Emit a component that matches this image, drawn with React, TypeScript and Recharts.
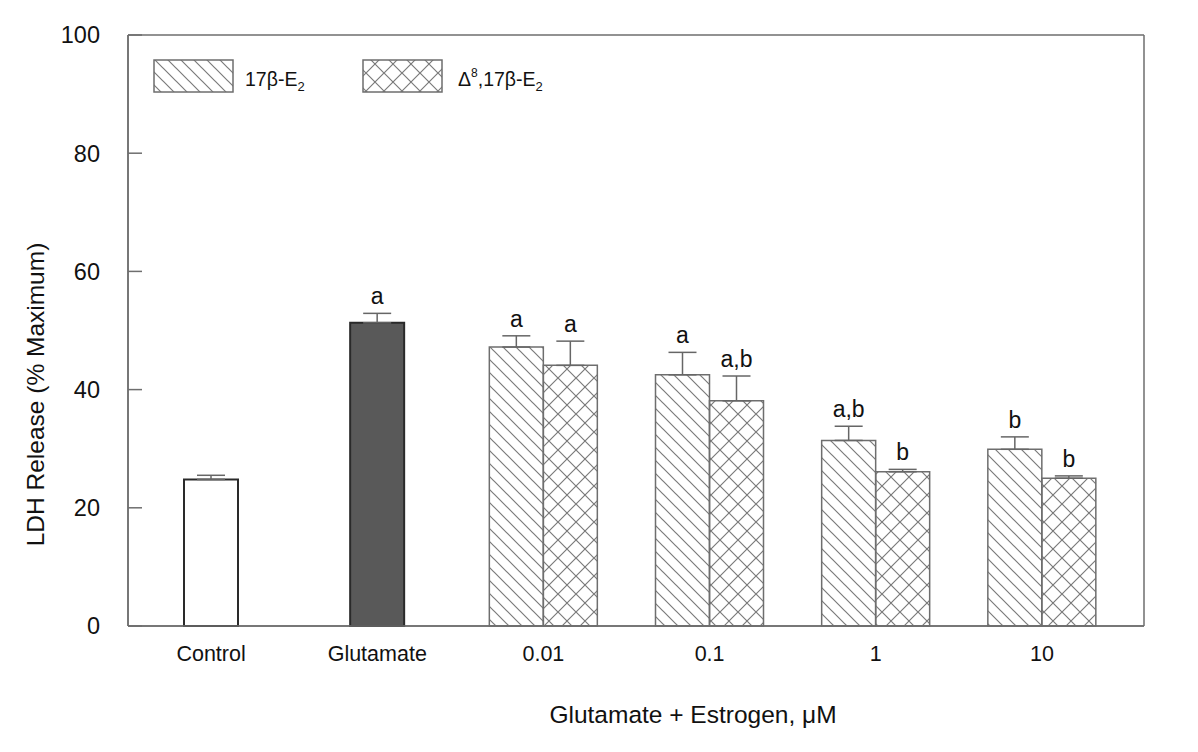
import { BarChart, Bar, XAxis, YAxis, ErrorBar, LabelList, Legend, Cell, Label, CartesianGrid } from "recharts";

// ─── Data ───────────────────────────────────────────────────────────

const categories = ["Control", "Glutamate", "0.01", "0.1", "1", "10"];

// Control / Glutamate alone (one centred bar)
const singleValues = [24.8, 51.3, null, null, null, null];
const singleErrors = [0.7, 1.6, null, null, null, null];
const singleLetters = ["", "a", "", "", "", ""];
const singleFills = ["#ffffff", "#595959"];

// Glutamate + 17β-E2
const e2Values = [null, null, 47.2, 42.5, 31.4, 29.9];
const e2Errors = [null, null, 1.9, 3.8, 2.4, 2.1];
const e2Letters = ["", "", "a", "a", "a,b", "b"];

// Glutamate + Δ8,17β-E2
const d8Values = [null, null, 44.1, 38.1, 26.1, 25.0];
const d8Errors = [null, null, 4.1, 4.2, 0.4, 0.4];
const d8Letters = ["", "", "a", "a,b", "b", "b"];

const yTicks = [0, 20, 40, 60, 80, 100];

const rows = categories.map((name, i) => ({
  name,
  single: singleValues[i],
  singleErr: singleErrors[i] == null ? null : [0, singleErrors[i]],
  singleLetter: singleLetters[i],
  e2: e2Values[i],
  e2Err: e2Errors[i] == null ? null : [0, e2Errors[i]],
  e2Letter: e2Letters[i],
  d8: d8Values[i],
  d8Err: d8Errors[i] == null ? null : [0, d8Errors[i]],
  d8Letter: d8Letters[i],
}));

// ─── Styling ────────────────────────────────────────────────────────

const FONT = "'Liberation Sans', Arial, Helvetica, sans-serif";
const FRAME = "#6e6e6e";
const HATCH = "#7a7a7a";
const X_PADDING = { left: 0, right: 19 };

// letter above the top of each error bar (LabelList value = whole row)
const letterLabel = (valKey: string, errKey: string, letterKey: string) => (props: any) => {
  const vb = props.viewBox ?? props;
  const row: any = props.value;
  if (!row || typeof row !== "object" || !row[letterKey] || row[valKey] == null) return null;
  const pxPerUnit = vb.height / row[valKey];
  const errTop = vb.y - row[errKey][1] * pxPerUnit;
  return (
    <text
      x={vb.x + vb.width / 2}
      y={errTop - 9}
      textAnchor="middle"
      fontSize={23}
      fontFamily={FONT}
      fill="#111"
    >
      {row[letterKey]}
    </text>
  );
};

function LegendBox() {
  return (
    <svg width={460} height={45} style={{ overflow: "visible" }}>
      <rect x={4} y={5} width={79} height={32} fill="url(#hatchE2)" stroke={FRAME} strokeWidth={1.5} />
      <text x={95} y={31} fontSize={19.5} fontFamily={FONT} fill="#111">
        17β-E
        <tspan fontSize={13} dy={5}>2</tspan>
      </text>
      <rect x={213} y={5} width={79} height={32} fill="url(#crossD8)" stroke={FRAME} strokeWidth={1.5} />
      <text x={308} y={31} fontSize={19.5} fontFamily={FONT} fill="#111">
        Δ
        <tspan fontSize={12} dy={-9}>8</tspan>
        <tspan dy={9}>,17β-E</tspan>
        <tspan fontSize={13} dy={5}>2</tspan>
      </text>
    </svg>
  );
}

export default function App() {
  return (
    <div style={{ position: "absolute", left: 0, top: 0, fontFamily: FONT, background: "#fff" }}>
      <BarChart
        width={1198}
        height={752}
        data={rows}
        margin={{ top: 35, right: 54, bottom: 66, left: 48 }}
        barGap={0}
      >
        <defs>
          <pattern id="hatchE2" patternUnits="userSpaceOnUse" width={13} height={13}>
            <path d="M-1,-1 L14,14 M-7.5,5.5 L7.5,20.5 M5.5,-7.5 L20.5,7.5" stroke={HATCH} strokeWidth={1.2} />
          </pattern>
          <pattern id="crossD8" patternUnits="userSpaceOnUse" width={18} height={18}>
            <path
              d="M0,0 L18,18 M-9,9 L9,27 M9,-9 L27,9 M18,0 L0,18 M9,-9 L-9,9 M27,9 L9,27"
              stroke={HATCH}
              strokeWidth={1.2}
            />
          </pattern>
        </defs>

        {/* frame round the plot area */}
        <CartesianGrid
          stroke={FRAME}
          strokeWidth={1.5}
          horizontalCoordinatesGenerator={({ offset }: any) => [offset.top, offset.top + offset.height]}
          verticalCoordinatesGenerator={({ offset }: any) => [offset.left, offset.left + offset.width]}
        />

        {/* visible bottom axis: one centred bar per category */}
        <XAxis
          xAxisId="single"
          dataKey="name"
          height={60}
          padding={X_PADDING}
          axisLine={{ stroke: FRAME, strokeWidth: 1.5 }}
          tickLine={false}
          tickSize={0}
          tickMargin={20}
          tick={{ fontSize: 21.5, fill: "#111" }}
          interval={0}
        >
          <Label
            content={(p: any) => (
              <text
                x={p.viewBox.x + p.viewBox.width / 2 + 57}
                y={p.viewBox.y + 97}
                textAnchor="middle"
                fontSize={24.5}
                fontFamily={FONT}
                fill="#111"
              >
                Glutamate + Estrogen, μM
              </text>
            )}
          />
        </XAxis>
        {/* hidden twin axis for the estrogen pairs */}
        <XAxis xAxisId="pair" dataKey="name" hide height={0} padding={X_PADDING} />

        <YAxis
          domain={[0, 100]}
          ticks={yTicks}
          width={80}
          axisLine={{ stroke: FRAME, strokeWidth: 1.5 }}
          tickLine={{ stroke: FRAME, strokeWidth: 1.5 }}
          tickSize={-14}
          tickMargin={42}
          tick={{ fontSize: 23.5, fill: "#111" }}
        >
          <Label
            content={(p: any) => {
              const cx = p.viewBox.x - 13;
              const cy = p.viewBox.y + p.viewBox.height / 2 + 64;
              return (
                <text
                  x={cx}
                  y={cy}
                  transform={`rotate(-90, ${cx}, ${cy})`}
                  textAnchor="middle"
                  dominantBaseline="central"
                  fontSize={24.5}
                  fontFamily={FONT}
                  fill="#111"
                >
                  LDH Release (% Maximum)
                </text>
              );
            }}
          />
        </YAxis>

        <Legend
          layout="horizontal"
          verticalAlign="middle"
          align="center"
          content={<LegendBox />}
          wrapperStyle={{ position: "absolute", left: 150, top: 55, width: 460, height: 45 }}
        />

        <Bar
          xAxisId="single"
          dataKey="single"
          barSize={54}
          stroke="#2a2a2a"
          strokeWidth={2}
          isAnimationActive={false}
        >
          {rows.map((r, i) => (
            <Cell key={r.name} fill={singleFills[i] ?? "#fff"} />
          ))}
          <ErrorBar dataKey="singleErr" width={14} stroke="#666" strokeWidth={1.5} direction="y" />
          <LabelList dataKey={(r: any) => r} content={letterLabel("single", "singleErr", "singleLetter")} />
        </Bar>

        <Bar
          xAxisId="pair"
          dataKey="e2"
          name="17β-E2"
          barSize={54}
          fill="url(#hatchE2)"
          stroke={FRAME}
          strokeWidth={1.5}
          isAnimationActive={false}
        >
          <ErrorBar dataKey="e2Err" width={14} stroke="#666" strokeWidth={1.5} direction="y" />
          <LabelList dataKey={(r: any) => r} content={letterLabel("e2", "e2Err", "e2Letter")} />
        </Bar>
        <Bar
          xAxisId="pair"
          dataKey="d8"
          name="Δ8,17β-E2"
          barSize={54}
          fill="url(#crossD8)"
          stroke={FRAME}
          strokeWidth={1.5}
          isAnimationActive={false}
        >
          <ErrorBar dataKey="d8Err" width={14} stroke="#666" strokeWidth={1.5} direction="y" />
          <LabelList dataKey={(r: any) => r} content={letterLabel("d8", "d8Err", "d8Letter")} />
        </Bar>
      </BarChart>
    </div>
  );
}
